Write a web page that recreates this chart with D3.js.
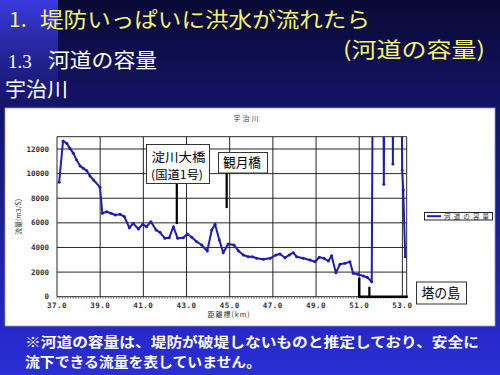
<!DOCTYPE html>
<html>
<head>
<meta charset="utf-8">
<script src="https://cdn.jsdelivr.net/npm/d3@7"></script>
<style>
  html, body { margin: 0; padding: 0; background: #0b0b3c; }
  svg { display: block; }
</style>
</head>
<body>
<svg id="chart"></svg>
<script>
// River capacity along the Uji river (km post -> m3/s)
const kmPosts = [
  37.10, 37.28, 37.45, 37.60, 37.76, 37.91, 38.07, 38.22, 38.38, 38.53, 38.69, 38.99,
  39.10, 39.30, 39.50, 39.70, 39.92, 40.12, 40.35, 40.53, 40.77, 40.97, 41.15, 41.35,
  41.59, 41.77, 42.00, 42.20, 42.39, 42.59, 42.85, 43.04, 43.24, 43.47, 43.70, 43.96,
  44.17, 44.32, 44.52, 44.70, 44.93, 45.20, 45.40, 45.63, 45.86, 46.05, 46.25, 46.56,
  46.87, 47.15, 47.33, 47.56, 47.76, 47.95, 48.10, 48.41, 48.72, 48.95, 49.15, 49.37,
  49.57, 49.72, 49.92, 50.11, 50.34, 50.57, 50.72, 50.93, 51.19, 51.37, 51.58, 51.66,
  52.08, 52.14, 52.20, 52.52, 52.56, 52.60, 52.92, 52.99, 53.04, 53.13
];
const capacity = [
  9300, 12650, 12460, 12050, 11650, 11100, 10620, 10430, 10240, 9800, 9480, 8900,
  6780, 6900, 6780, 6640, 6690, 6500, 5600, 5960, 5500, 5880, 5690, 6090,
  5420, 5230, 4740, 4790, 5690, 4740, 4790, 5090, 4830, 4470, 4200, 3710,
  5420, 5880, 4610, 3580, 4280, 4200, 3740, 3390, 3250, 3250, 3120, 3040,
  3120, 3390, 3470, 3170, 3390, 3580, 3250, 3120, 2980, 2840, 3200, 3120,
  2900, 3330, 1950, 2630, 2710, 2840, 1900, 1820, 1680, 1580, 1220, 30000,
  30000, 9130, 30000, 30000, 10780, 30000, 30000, 10290, 8670, 3250
];

// Axis ticks
const xTickValues = [37, 39, 41, 43, 45, 47, 49, 51, 53];
const xTickLabels = ["37.0", "39.0", "41.0", "43.0", "45.0", "47.0", "49.0", "51.0", "53.0"];
const yTickValues = [0, 2000, 4000, 6000, 8000, 10000, 12000];
const yTickLabels = ["0", "2000", "4000", "6000", "8000", "10000", "12000"];

// Bridge markers: [km, from value, to value]
const yodoBridge = [42.55, 9240, 5900];
const kangetsuBridge = [44.86, 10050, 7200];
// Tonoshima bracket
const tonoshimaStart = 51.0;
const tonoshimaEnd = 53.25;
const tonoshimaHeight = 1540;
const tonoshimaTick = [51.47, 810];

const width = 500, height = 375;
const svg = d3.select("#chart").attr("width", width).attr("height", height);
const cjk = "'Noto Sans CJK JP', 'Noto Sans', sans-serif";
const mono = "'DejaVu Sans Mono', monospace";
const lineColor = "#1c1cb8";

// Background gradients
const defs = svg.append("defs");
const bg = defs.append("linearGradient").attr("id", "bg").attr("x1", 0).attr("y1", 0).attr("x2", 0).attr("y2", 1);
bg.append("stop").attr("offset", "0%").attr("stop-color", "#0a0a36");
bg.append("stop").attr("offset", "30%").attr("stop-color", "#141468");
bg.append("stop").attr("offset", "85%").attr("stop-color", "#2626c4");
bg.append("stop").attr("offset", "100%").attr("stop-color", "#2a30d6");
const strip = defs.append("linearGradient").attr("id", "strip").attr("x1", 0).attr("y1", 0).attr("x2", 0).attr("y2", 1);
strip.append("stop").attr("offset", "0%").attr("stop-color", "#3a3ae0").attr("stop-opacity", 1);
strip.append("stop").attr("offset", "100%").attr("stop-color", "#3a3ae0").attr("stop-opacity", 0);

svg.append("rect").attr("width", width).attr("height", height).attr("fill", "url(#bg)");
svg.append("rect").attr("x", 0).attr("y", 0).attr("width", 58).attr("height", 110).attr("fill", "url(#strip)");

// Slide titles
svg.append("text").attr("x", 9).attr("y", 27).attr("fill", "#f4f46a")
  .style("font-family", cjk).style("font-size", "21px").text("1.");
svg.append("text").attr("x", 40).attr("y", 27).attr("fill", "#f4f46a")
  .attr("textLength", 330).attr("lengthAdjust", "spacingAndGlyphs")
  .style("font-family", cjk).style("font-size", "21px").text("堤防いっぱいに洪水が流れたら");
svg.append("text").attr("x", 343).attr("y", 57).attr("fill", "#f4f46a")
  .attr("textLength", 142).attr("lengthAdjust", "spacingAndGlyphs")
  .style("font-family", cjk).style("font-size", "21px").text("(河道の容量)");
svg.append("text").attr("x", 8).attr("y", 68).attr("fill", "#ffffff")
  .style("font-family", "'Liberation Serif', serif").style("font-size", "19px").text("1.3");
svg.append("text").attr("x", 48).attr("y", 68).attr("fill", "#ffffff")
  .attr("textLength", 109).attr("lengthAdjust", "spacingAndGlyphs")
  .style("font-family", cjk).style("font-size", "20px").text("河道の容量");
svg.append("text").attr("x", 5).attr("y", 97).attr("fill", "#ffffff")
  .attr("textLength", 63).attr("lengthAdjust", "spacingAndGlyphs")
  .style("font-family", cjk).style("font-size", "20px").text("宇治川");

// White chart panel
svg.append("rect").attr("x", 5).attr("y", 108).attr("width", 490).attr("height", 218)
  .attr("fill", "#ffffff").attr("stroke", "#9a9ab0").attr("stroke-width", 0.8);

// Footnote
svg.append("text").attr("x", 25).attr("y", 346.5).attr("fill", "#ffffff")
  .attr("textLength", 454).attr("lengthAdjust", "spacingAndGlyphs")
  .style("font-family", cjk).style("font-size", "13.5px").style("font-weight", "bold")
  .text("※河道の容量は、堤防が破堤しないものと推定しており、安全に");
svg.append("text").attr("x", 25).attr("y", 366.5).attr("fill", "#ffffff")
  .attr("textLength", 236).attr("lengthAdjust", "spacingAndGlyphs")
  .style("font-family", cjk).style("font-size", "13.5px").style("font-weight", "bold")
  .text("流下できる流量を表していません。");

// Scales
const x = d3.scaleLinear().domain([37, 53.2]).range([57, 406.7]);
const y = d3.scaleLinear().domain([0, 13000]).range([296.7, 136.7]);
const [x0, x1] = x.range();
const [yb, yt] = y.range();

defs.append("clipPath").attr("id", "plot-clip")
  .append("rect").attr("x", x0).attr("y", yt).attr("width", x1 - x0).attr("height", yb - yt);

// Gridlines
const grid = svg.append("g").attr("stroke", "#111").attr("stroke-width", 0.9);
grid.selectAll(".hgrid").data(yTickValues.concat([13000])).enter().append("line")
  .attr("x1", x0).attr("x2", x1).attr("y1", d => y(d)).attr("y2", d => y(d));
grid.selectAll(".vgrid").data(xTickValues.concat([53.2])).enter().append("line")
  .attr("y1", yt).attr("y2", yb).attr("x1", d => x(d)).attr("x2", d => x(d));

// Minor ticks along the x axis
svg.append("g").attr("stroke", "#333").attr("stroke-width", 0.6)
  .selectAll("line").data(d3.range(37, 53.2, 0.125)).enter().append("line")
  .attr("x1", d => x(d)).attr("x2", d => x(d)).attr("y1", yb).attr("y2", yb + 2);

// Tick labels
svg.append("g").selectAll("text").data(yTickValues).enter().append("text")
  .attr("x", 49).attr("y", d => y(d)).attr("dy", "0.35em").attr("text-anchor", "end")
  .attr("fill", "#333").style("font-family", mono).style("font-size", "7.5px").style("font-weight", "bold")
  .text((d, i) => yTickLabels[i]);
svg.append("g").selectAll("text").data(xTickValues).enter().append("text")
  .attr("x", d => x(d)).attr("y", 308).attr("text-anchor", "middle")
  .attr("fill", "#333").style("font-family", mono).style("font-size", "7.5px").style("font-weight", "bold")
  .attr("letter-spacing", "0.5px")
  .text((d, i) => xTickLabels[i]);

// Axis titles
svg.append("text").attr("x", 247).attr("y", 121).attr("text-anchor", "middle").attr("fill", "#333")
  .attr("letter-spacing", "2px").style("font-family", cjk).style("font-size", "7px").text("宇治川");
svg.append("text").attr("transform", "translate(21,217) rotate(-90)").attr("text-anchor", "middle")
  .attr("fill", "#333").style("font-family", cjk).style("font-size", "7px").text("流量(m3/S)");
svg.append("text").attr("x", 229).attr("y", 317).attr("text-anchor", "middle").attr("fill", "#333")
  .attr("letter-spacing", "1px").style("font-family", cjk).style("font-size", "7px").text("距離標(km)");

// Capacity line with small markers
const points = kmPosts.map((k, i) => ({ km: k, value: capacity[i] }));
const line = d3.line().x(d => x(d.km)).y(d => y(d.value));
const plot = svg.append("g").attr("clip-path", "url(#plot-clip)");
plot.append("path").datum(points)
  .attr("fill", "none").attr("stroke", lineColor).attr("stroke-width", 2)
  .attr("stroke-linejoin", "round").attr("d", line);
plot.selectAll(".dot").data(points).enter().append("circle")
  .attr("class", "dot").attr("cx", d => x(d.km)).attr("cy", d => y(d.value))
  .attr("r", 1.5).attr("fill", lineColor);

// Legend
svg.append("rect").attr("x", 424.5).attr("y", 212.5).attr("width", 68).attr("height", 7.5)
  .attr("fill", "#fff").attr("stroke", "#111").attr("stroke-width", 0.9);
svg.append("line").attr("x1", 427).attr("x2", 441).attr("y1", 216.2).attr("y2", 216.2)
  .attr("stroke", lineColor).attr("stroke-width", 2);
svg.append("text").attr("x", 444).attr("y", 219).attr("fill", "#222")
  .attr("textLength", 45).attr("lengthAdjust", "spacing")
  .style("font-family", cjk).style("font-size", "6.5px").text("河道の容量");

// Bridge markers
const marker = svg.append("g").attr("stroke", "#000").attr("stroke-width", 2.2);
[yodoBridge, kangetsuBridge].forEach(b => {
  marker.append("line").attr("x1", x(b[0])).attr("x2", x(b[0])).attr("y1", y(b[1])).attr("y2", y(b[2]));
});
marker.append("path")
  .attr("fill", "none").attr("stroke-width", 2.5)
  .attr("d", `M${x(tonoshimaStart)},${y(tonoshimaHeight)} L${x(tonoshimaStart)},${y(0)} L${x(tonoshimaEnd)},${y(0)}`);
marker.append("line").attr("x1", x(tonoshimaTick[0])).attr("x2", x(tonoshimaTick[0]))
  .attr("y1", y(tonoshimaTick[1])).attr("y2", y(0));

// Callout boxes
function callout(bx, by, bw, bh, lines) {
  svg.append("rect").attr("x", bx).attr("y", by).attr("width", bw).attr("height", bh)
    .attr("fill", "#fff").attr("stroke", "#333").attr("stroke-width", 1);
  lines.forEach(l => {
    svg.append("text").attr("x", l.x).attr("y", l.y).attr("fill", "#000")
      .attr("textLength", l.len).attr("lengthAdjust", "spacingAndGlyphs")
      .style("font-family", cjk).style("font-size", l.size + "px").text(l.text);
  });
}
callout(146.5, 144.5, 63, 39, [
  { text: "淀川大橋", x: 151.5, y: 161.5, len: 54, size: 12.5 },
  { text: "(国道1号)", x: 151, y: 179, len: 52, size: 11.5 }
]);
callout(218.5, 152.5, 49, 20.5, [
  { text: "観月橋", x: 223, y: 167, len: 38, size: 13 }
]);
callout(416.5, 282, 50, 22, [
  { text: "塔の島", x: 421.5, y: 298, len: 38.5, size: 14 }
]);
</script>
</body>
</html>
